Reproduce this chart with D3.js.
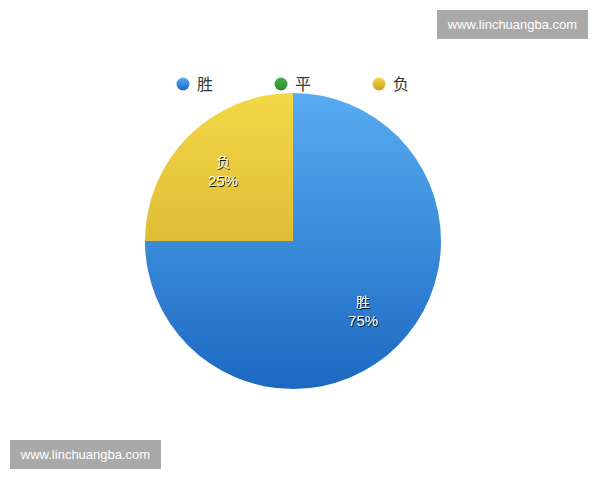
<!DOCTYPE html>
<html>
<head>
<meta charset="utf-8">
<script src="https://cdn.jsdelivr.net/npm/d3@7"></script>
<style>
  body { margin: 0; background: #fff; }
  svg { display: block; font-family: "Noto Sans CJK SC", "Noto Sans", sans-serif; }
</style>
</head>
<body>
<svg id="chart" width="600" height="480"></svg>
<script>
// data
const categories = ['胜', '平', '负'];
const values = [75, 0, 25];
const watermark = 'www.linchuangba.com';

const svg = d3.select('#chart');
const cx = 293, cy = 241, r = 148;

// gradients for the slices (light on top, darker below)
const defs = svg.append('defs');
const grads = [
    { top: '#58acf2', bottom: '#1c69c2' },
    { top: '#4caf4c', bottom: '#2f8a2f' },
    { top: '#f3d846', bottom: '#cda128' }
];
grads.forEach((g, i) => {
    const sg = defs.append('linearGradient')
        .attr('id', 'g' + i)
        .attr('gradientUnits', 'userSpaceOnUse')
        .attr('x1', 0).attr('y1', -r)
        .attr('x2', 0).attr('y2', r);
    sg.append('stop').attr('offset', '0%').attr('stop-color', g.top);
    sg.append('stop').attr('offset', '100%').attr('stop-color', g.bottom);

    const lg = defs.append('linearGradient').attr('id', 'lg' + i)
        .attr('x1', 0).attr('y1', 0).attr('x2', 0).attr('y2', 1);
    lg.append('stop').attr('offset', '0%').attr('stop-color', g.top);
    lg.append('stop').attr('offset', '100%').attr('stop-color', g.bottom);
});
const shadow = defs.append('filter').attr('id', 'ts')
    .attr('x', '-20%').attr('y', '-30%').attr('width', '140%').attr('height', '160%');
shadow.append('feDropShadow')
    .attr('dx', 0.8).attr('dy', 1).attr('stdDeviation', 0.5)
    .attr('flood-color', '#000').attr('flood-opacity', 0.9);

const pie = d3.pie().sort(null).value(d => d)(values);
const arc = d3.arc().innerRadius(0).outerRadius(r);
const labelArc = d3.arc().innerRadius(r * 0.67).outerRadius(r * 0.67);

const g = svg.append('g').attr('transform', `translate(${cx},${cy})`);

g.selectAll('path')
    .data(pie)
    .enter().append('path')
    .attr('d', arc)
    .attr('fill', (d, i) => `url(#g${i})`);

// slice labels, name above and percent below
const shown = pie.filter(d => d.data > 0);
g.selectAll('.name')
    .data(shown)
    .enter().append('text')
    .attr('class', 'name')
    .attr('x', d => labelArc.centroid(d)[0])
    .attr('y', d => labelArc.centroid(d)[1] - 4)
    .attr('text-anchor', 'middle')
    .attr('fill', '#f4f4ea')
    .attr('font-size', 14)
    .attr('filter', 'url(#ts)')
    .text(d => categories[d.index]);
g.selectAll('.pct')
    .data(shown)
    .enter().append('text')
    .attr('class', 'pct')
    .attr('x', d => labelArc.centroid(d)[0])
    .attr('y', d => labelArc.centroid(d)[1] + 15)
    .attr('text-anchor', 'middle')
    .attr('fill', '#f4f4ea')
    .attr('font-size', 15)
    .attr('font-family', '"Liberation Sans", Arial, sans-serif')
    .attr('filter', 'url(#ts)')
    .text(d => d.data + '%');

// legend
const legendX = d3.scalePoint().domain(categories).range([183, 379]);
const legend = svg.append('g').selectAll('g')
    .data(categories)
    .enter().append('g')
    .attr('transform', d => `translate(${legendX(d)},84)`);
legend.append('circle').attr('r', 6.5).attr('fill', (d, i) => `url(#lg${i})`);
legend.append('text')
    .attr('x', 14).attr('y', 6)
    .attr('font-size', 16)
    .attr('fill', '#333')
    .text(d => d);

// watermarks
[[437, 10], [10, 440]].forEach(([x, y]) => {
    svg.append('rect').attr('x', x).attr('y', y)
        .attr('width', 151).attr('height', 29).attr('fill', '#a9a9a9');
    svg.append('text').attr('x', x + 75.5).attr('y', y + 19)
        .attr('text-anchor', 'middle')
        .attr('font-family', '"Liberation Sans", Arial, sans-serif')
        .attr('font-size', 13)
        .attr('fill', '#fff')
        .text(watermark);
});
</script>
</body>
</html>
